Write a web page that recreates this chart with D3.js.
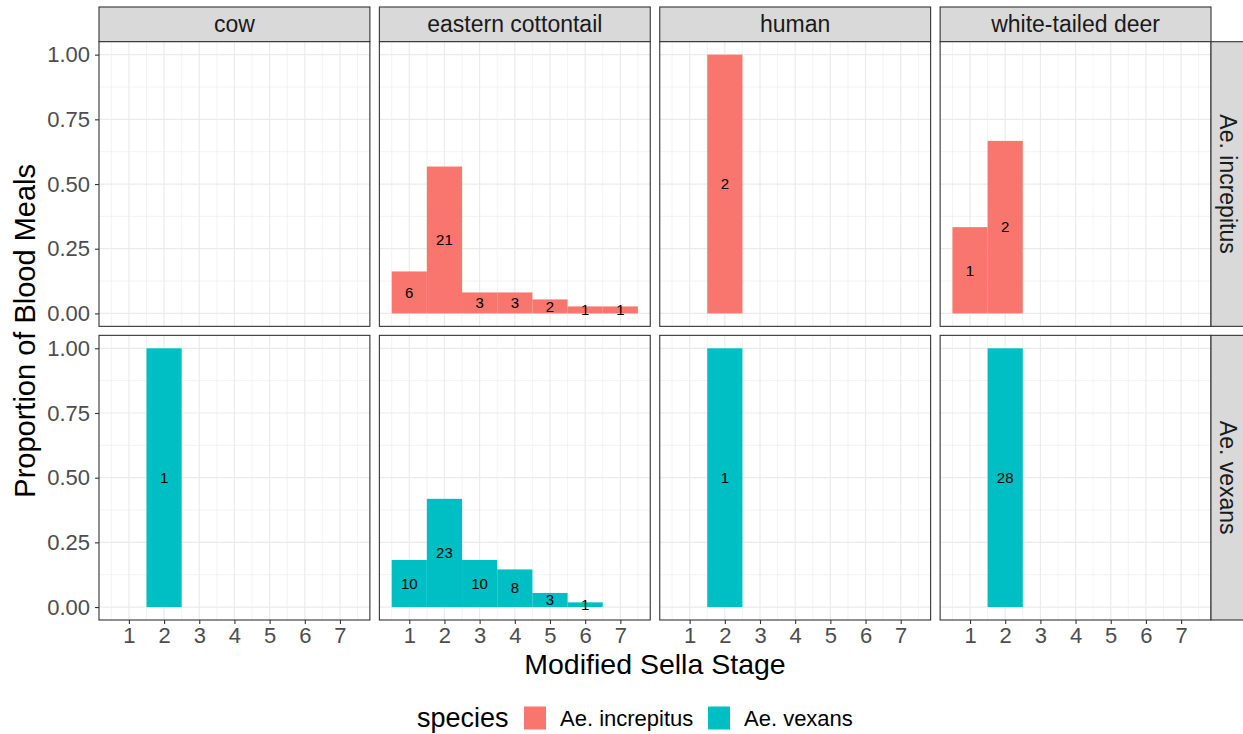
<!DOCTYPE html>
<html>
<head>
<meta charset="utf-8">
<script src="https://cdn.jsdelivr.net/npm/d3@7"></script>
<style>
  body { margin: 0; background: #fff; }
  svg { display: block; font-family: "Liberation Sans", Arial, sans-serif; }
</style>
</head>
<body>
<svg id="chart"></svg>
<script>
// facets
var hosts = ["cow", "eastern cottontail", "human", "white-tailed deer"]
var species = ["Ae. increpitus", "Ae. vexans"]
var stages = [1, 2, 3, 4, 5, 6, 7]
var yTicks = [0, 0.25, 0.5, 0.75, 1]
var colors = ["#F8766D", "#00BFC4"]

// blood meal counts per stage (1..7), one row per host
var countsIncrepitus = [
  [0, 0, 0, 0, 0, 0, 0],
  [6, 21, 3, 3, 2, 1, 1],
  [0, 2, 0, 0, 0, 0, 0],
  [1, 2, 0, 0, 0, 0, 0]
]
var countsVexans = [
  [0, 1, 0, 0, 0, 0, 0],
  [10, 23, 10, 8, 3, 1, 0],
  [0, 1, 0, 0, 0, 0, 0],
  [0, 28, 0, 0, 0, 0, 0]
]
var allCounts = [countsIncrepitus, countsVexans]

var width = 1243
var height = 734
var margin = {top: 7, left: 99, right: 32, bottom: 114}
var gapX = 9.5, gapY = 9
var stripH = 34.7
var panelW = (width - margin.left - margin.right - 3 * gapX) / 4
var panelH = (height - margin.top - stripH - margin.bottom - gapY) / 2

var svg = d3.select("#chart").attr("width", width).attr("height", height)

var x = d3.scaleLinear().domain([0.15, 7.85]).range([0, panelW])
var y = d3.scaleLinear().domain([-0.05, 1.05]).range([panelH, 0])

var gridColor = "#EBEBEB"
var frame = "#333333"

hosts.forEach(function (host, ci) {
  var px = margin.left + ci * (panelW + gapX)

  // strip on top
  var st = svg.append("g").attr("transform", `translate(${px},${margin.top})`)
  st.append("rect").attr("width", panelW).attr("height", stripH)
    .attr("fill", "#D9D9D9").attr("stroke", frame).attr("stroke-width", 1.1)
  st.append("text").attr("x", panelW / 2).attr("y", stripH / 2).attr("dy", "0.35em")
    .attr("text-anchor", "middle").attr("font-size", 23).attr("fill", "#1A1A1A").text(host)

  species.forEach(function (sp, ri) {
    var py = margin.top + stripH + ri * (panelH + gapY)
    var g = svg.append("g").attr("transform", `translate(${px},${py})`)
    g.append("rect").attr("width", panelW).attr("height", panelH).attr("fill", "#fff")

    // minor grid
    var minorX = d3.range(0.5, 8, 1)
    var minorY = [0.125, 0.375, 0.625, 0.875]
    g.selectAll(".mx").data(minorX).join("line")
      .attr("x1", d => x(d)).attr("x2", d => x(d)).attr("y1", 0).attr("y2", panelH)
      .attr("stroke", gridColor).attr("stroke-width", 0.6)
    g.selectAll(".my").data(minorY).join("line")
      .attr("y1", d => y(d)).attr("y2", d => y(d)).attr("x1", 0).attr("x2", panelW)
      .attr("stroke", gridColor).attr("stroke-width", 0.6)
    // major grid
    g.selectAll(".gx").data(stages).join("line")
      .attr("x1", d => x(d)).attr("x2", d => x(d)).attr("y1", 0).attr("y2", panelH)
      .attr("stroke", gridColor).attr("stroke-width", 1.2)
    g.selectAll(".gy").data(yTicks).join("line")
      .attr("y1", d => y(d)).attr("y2", d => y(d)).attr("x1", 0).attr("x2", panelW)
      .attr("stroke", gridColor).attr("stroke-width", 1.2)

    var counts = allCounts[ri][ci]
    var total = d3.sum(counts)
    var data = stages.map((s, i) => ({stage: s, n: counts[i], p: total ? counts[i] / total : 0}))
      .filter(d => d.n > 0)

    g.selectAll(".bar").data(data).join("rect")
      .attr("x", d => x(d.stage - 0.5)).attr("width", d => x(d.stage + 0.5) - x(d.stage - 0.5))
      .attr("y", d => y(d.p)).attr("height", d => y(0) - y(d.p))
      .attr("fill", colors[ri])
    g.selectAll(".lbl").data(data).join("text")
      .attr("x", d => x(d.stage)).attr("y", d => y(d.p / 2)).attr("dy", "0.35em")
      .attr("text-anchor", "middle").attr("font-size", 15).attr("fill", "#000")
      .text(d => d.n)

    g.append("rect").attr("width", panelW).attr("height", panelH)
      .attr("fill", "none").attr("stroke", frame).attr("stroke-width", 1.1)

    // y axis on the first column
    if (ci === 0) {
      var ya = g.append("g").call(d3.axisLeft(y).tickValues(yTicks).tickFormat(d3.format(".2f")).tickSize(4).tickPadding(5))
      ya.select(".domain").remove()
      ya.selectAll(".tick line").attr("stroke", frame).attr("stroke-width", 1.1)
      ya.selectAll(".tick text").attr("font-size", 22).attr("fill", "#4D4D4D")
        .attr("font-family", "Liberation Sans, Arial, sans-serif")
    }
    // x axis on the bottom row
    if (ri === 1) {
      var xa = g.append("g").attr("transform", `translate(0,${panelH})`)
        .call(d3.axisBottom(x).tickValues(stages).tickSize(4).tickPadding(3))
      xa.select(".domain").remove()
      xa.selectAll(".tick line").attr("stroke", frame).attr("stroke-width", 1.1)
      xa.selectAll(".tick text").attr("font-size", 22).attr("fill", "#4D4D4D")
        .attr("font-family", "Liberation Sans, Arial, sans-serif")
    }
    // right strip on the last column
    if (ci === hosts.length - 1) {
      var rs = g.append("g").attr("transform", `translate(${panelW},0)`)
      rs.append("rect").attr("width", stripH).attr("height", panelH)
        .attr("fill", "#D9D9D9").attr("stroke", frame).attr("stroke-width", 1.1)
      rs.append("text").attr("transform", `translate(${stripH / 2},${panelH / 2}) rotate(90)`)
        .attr("dy", "0.35em").attr("text-anchor", "middle").attr("font-size", 23)
        .attr("fill", "#1A1A1A").text(sp)
    }
  })
})

var plotLeft = margin.left
var plotRight = margin.left + 4 * panelW + 3 * gapX
var panelsBottom = margin.top + stripH + 2 * panelH + gapY

// axis titles
svg.append("text").attr("x", (plotLeft + plotRight) / 2).attr("y", 674)
  .attr("text-anchor", "middle").attr("font-size", 28.5).attr("fill", "#000")
  .text("Modified Sella Stage")
svg.append("text")
  .attr("transform", `translate(35,${(margin.top + stripH + panelsBottom) / 2}) rotate(-90)`)
  .attr("text-anchor", "middle").attr("font-size", 29).attr("fill", "#000")
  .text("Proportion of Blood Meals")

// legend
var legend = svg.append("g").attr("transform", `translate(0,718)`)
legend.append("text").attr("x", 417).attr("y", 0).attr("dy", "0.35em")
  .attr("font-size", 27).attr("fill", "#000").text("species")
var keyX = [524, 708]
species.forEach(function (sp, i) {
  legend.append("rect").attr("x", keyX[i]).attr("y", -11.5).attr("width", 22).attr("height", 23)
    .attr("fill", colors[i])
  legend.append("text").attr("x", keyX[i] + 36).attr("y", 0).attr("dy", "0.35em")
    .attr("font-size", 22).attr("fill", "#000").text(sp)
})
</script>
</body>
</html>
